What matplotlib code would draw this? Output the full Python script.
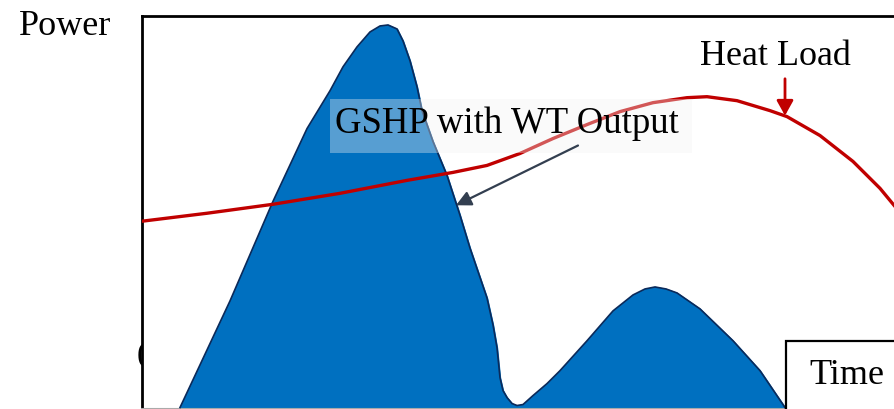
import matplotlib
matplotlib.use('Agg')
import matplotlib.pyplot as plt
from matplotlib.patches import Rectangle

# values (time / power in arbitrary units)
gshp_time = [38, 88, 131, 165, 188, 201, 215, 228, 238, 246, 255, 261, 268, 275, 280, 291,
             305, 318, 328, 345, 351, 355, 358, 361, 365, 370, 375, 381, 391, 405, 418, 445,
             471, 491, 503, 513, 524, 535, 558, 591, 618, 643]
gshp_power = [0, 107, 207, 280, 318, 342, 362, 377, 383, 384, 380, 368, 348, 322, 298, 267,
              233, 193, 160, 110, 83, 60, 30, 17, 10, 4, 2, 3, 12, 24, 37, 67,
              97, 113, 119, 121, 119, 115, 99, 67, 37, 0]

load_time = [0, 65, 131, 198, 265, 311, 345, 378, 411, 445, 478, 511, 545, 565, 595, 628,
             645, 678, 711, 738, 752, 763]
load_power = [187, 195, 204, 215, 228, 236, 243, 255, 270, 284, 297, 306, 311, 312, 308, 298,
              292, 273, 247, 220, 203, 190]

serif = 'Liberation Serif'

fig = plt.figure(figsize=(8.94, 4.10), dpi=100)
ax = fig.add_axes([142 / 894, 0, (900 - 142) / 894, 393 / 410])
ax.set_xlim(0, 758)
ax.set_ylim(-1.5, 393)

ax.fill_between(gshp_time, gshp_power, 0, color='#0070c0', zorder=2)
ax.plot(gshp_time, gshp_power, color='#0b2a5a', lw=1.2, zorder=3)
ax.plot(load_time, load_power, color='#c00000', lw=2.4, zorder=4)

# label box sits over the curves
ax.add_patch(Rectangle((188, 255), 362, 55, facecolor='#f2f2f2', edgecolor='none',
                       alpha=0.36, zorder=5))
ax.text(365, 277, 'GSHP with WT Output', ha='center', va='baseline', fontsize=26.5,
        family=serif, zorder=6)
ax.annotate('', xy=(314, 203), xytext=(436, 263),
            arrowprops=dict(arrowstyle='-|>,head_length=0.9,head_width=0.45',
                            color='#333f50', lw=1.6, shrinkA=0, shrinkB=0), zorder=6)

ax.text(633, 345, 'Heat Load', ha='center', va='baseline', fontsize=26, family=serif)
ax.annotate('', xy=(643, 293), xytext=(643, 330),
            arrowprops=dict(arrowstyle='-|>,head_length=0.9,head_width=0.5',
                            color='#c00000', lw=2, shrinkA=0, shrinkB=0))

# time label box at the lower right
ax.add_patch(Rectangle((644, -5), 200, 72, facecolor='white', edgecolor='black',
                       lw=1.6, zorder=7, clip_on=False))
ax.text(705, 25, 'Time', ha='center', va='baseline', fontsize=26, family=serif, zorder=8)

fig.text(65 / 894, 1 - 35 / 410, 'Power', ha='center', va='baseline', fontsize=26, family=serif)
fig.text(146 / 894, 1 - 367 / 410, '0', ha='center', va='baseline', fontsize=26, family=serif,
         zorder=-1)

ax.set_xticks([])
ax.set_yticks([])
for side in ['left', 'top']:
    ax.spines[side].set_linewidth(2)
    ax.spines[side].set_color('black')
ax.spines['bottom'].set_color('#aaaaaa')
ax.spines['bottom'].set_linewidth(1.5)
ax.spines['right'].set_visible(False)

fig.savefig('out.png', dpi=100)
